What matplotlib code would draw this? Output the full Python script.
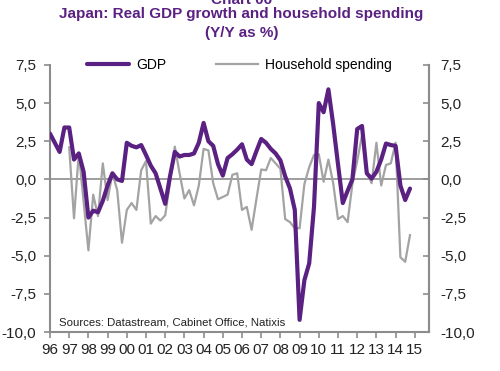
import numpy as np
import matplotlib
matplotlib.use("Agg")
from matplotlib import pyplot as plt
from matplotlib.ticker import FuncFormatter

# quarterly data, Y/Y %
gdp_start = 1996
gdp = [3.0, 2.4, 1.8, 3.4,
       3.4, 1.3, 1.7, 0.5,
       -2.5, -2.05, -2.15, -1.4,
       -0.4, 0.4, 0.0, -0.1,
       2.4, 2.2, 2.1, 2.25,
       1.6, 0.9, 0.4, -0.6,
       -1.6, 0.2, 1.8, 1.5,
       1.6, 1.6, 1.7, 2.4,
       3.7, 2.5, 2.2, 1.0,
       0.25, 1.4, 1.65, 1.95,
       2.3, 1.3, 1.0, 1.85,
       2.65, 2.4, 2.0, 1.7,
       1.25, 0.2, -0.6, -2.0,
       -9.2, -6.6, -5.5, -1.8,
       5.0, 4.4, 5.9, 3.6,
       1.0, -1.55, -0.75, 0.0,
       3.3, 3.5, 0.4, 0.05,
       0.5, 1.3, 2.35, 2.25,
       2.2, -0.4, -1.35, -0.6]

hh_start = 1997
household = [2.1, -2.55, 1.75, -1.45,
             -4.65, -1.0, -2.4, 1.05,
             -1.35, 0.4, -0.7, -4.15,
             -2.0, -1.55, -2.0, 0.6,
             1.2, -2.9, -2.4, -2.7,
             -2.35, -0.2, 2.15, 0.4,
             -1.25, -0.7, -1.7, -0.4,
             2.0, 1.9, -0.25, -1.3,
             -1.15, -1.0, 0.3, 0.4,
             -2.0, -1.8, -3.3, -1.3,
             0.65, 0.6, 1.4, 1.05,
             0.7, -2.6, -2.8, -3.2,
             -3.2, -0.3, 0.8, 1.6,
             1.65, -0.15, 1.3, -0.25,
             -2.6, -2.4, -2.8, -0.3,
             1.2, 2.9, 0.6, -0.25,
             2.4, -0.4, 0.95, 1.05,
             2.4, -5.1, -5.4, -3.65]

years = list(range(1996, 2016))
year_labels = [str(y)[2:] for y in years]
y_ticks = [-10, -7.5, -5, -2.5, 0, 2.5, 5, 7.5]

purple = "#5a2182"
grey = "#a3a3a3"
axis_grey = "#8c8c8c"

plt.rcParams["font.family"] = ["Liberation Sans", "DejaVu Sans"]

fig = plt.figure(figsize=(5.0, 3.71), dpi=100)
ax = fig.add_axes([0.1, 0.105, 0.758, 0.72])

x_gdp = gdp_start + np.arange(len(gdp)) / 4
x_hh = hh_start + np.arange(len(household)) / 4

ax.axhline(0, color=axis_grey, lw=1.2, zorder=1)
ax.plot(x_hh, household, color=grey, lw=1.6, label="Household spending", zorder=2)
ax.plot(x_gdp, gdp, color=purple, lw=3.0, label="GDP", zorder=3, solid_capstyle="round")

ax.set_xlim(1996, 2015.74)
ax.set_ylim(-10, 7.5)
ax.set_xticks(years)
ax.set_xticklabels(year_labels)
ax.set_yticks(y_ticks)
fmt = FuncFormatter(lambda v, p: f"{v:.1f}".replace(".", ","))
ax.yaxis.set_major_formatter(fmt)

ax.spines["top"].set_visible(False)
for side in ["left", "right", "bottom"]:
    ax.spines[side].set_color(axis_grey)
    ax.spines[side].set_linewidth(1.5)

ax.tick_params(axis="both", colors=axis_grey, labelcolor="#222222", labelsize=11,
               length=4, width=1.2, direction="out")
ax.tick_params(axis="x", pad=4)
ax.tick_params(axis="y", pad=6)

ax2 = ax.twinx()
ax2.set_ylim(-10, 7.5)
ax2.set_yticks(y_ticks)
ax2.yaxis.set_major_formatter(fmt)
ax2.tick_params(axis="y", colors=axis_grey, labelcolor="#222222", labelsize=11,
                length=4, width=1.2, direction="in", pad=8)
for side in ["top", "left", "bottom"]:
    ax2.spines[side].set_visible(False)
ax2.spines["right"].set_color(axis_grey)
ax2.spines["right"].set_linewidth(1.5)

handles, labels = ax.get_legend_handles_labels()
ax.legend(handles[::-1], labels[::-1], loc="center", bbox_to_anchor=(0.5, 1.0),
          ncol=2, frameon=False, fontsize=10, handlelength=3.0,
          columnspacing=3.6, handletextpad=0.5)

ax.text(0.025, 0.025, "Sources: Datastream, Cabinet Office, Natixis",
        transform=ax.transAxes, fontsize=8.2, color="#222222")

fig.text(0.483, 1.0, "Chart 06", ha="center", va="center", fontsize=11,
         fontweight="bold", color=purple)
fig.text(0.483, 0.962, "Japan: Real GDP growth and household spending", ha="center",
         va="center", fontsize=11, fontweight="bold", color=purple)
fig.text(0.483, 0.911, "(Y/Y as %)", ha="center", va="center", fontsize=11,
         fontweight="bold", color=purple)

fig.savefig("out.png", dpi=100)
